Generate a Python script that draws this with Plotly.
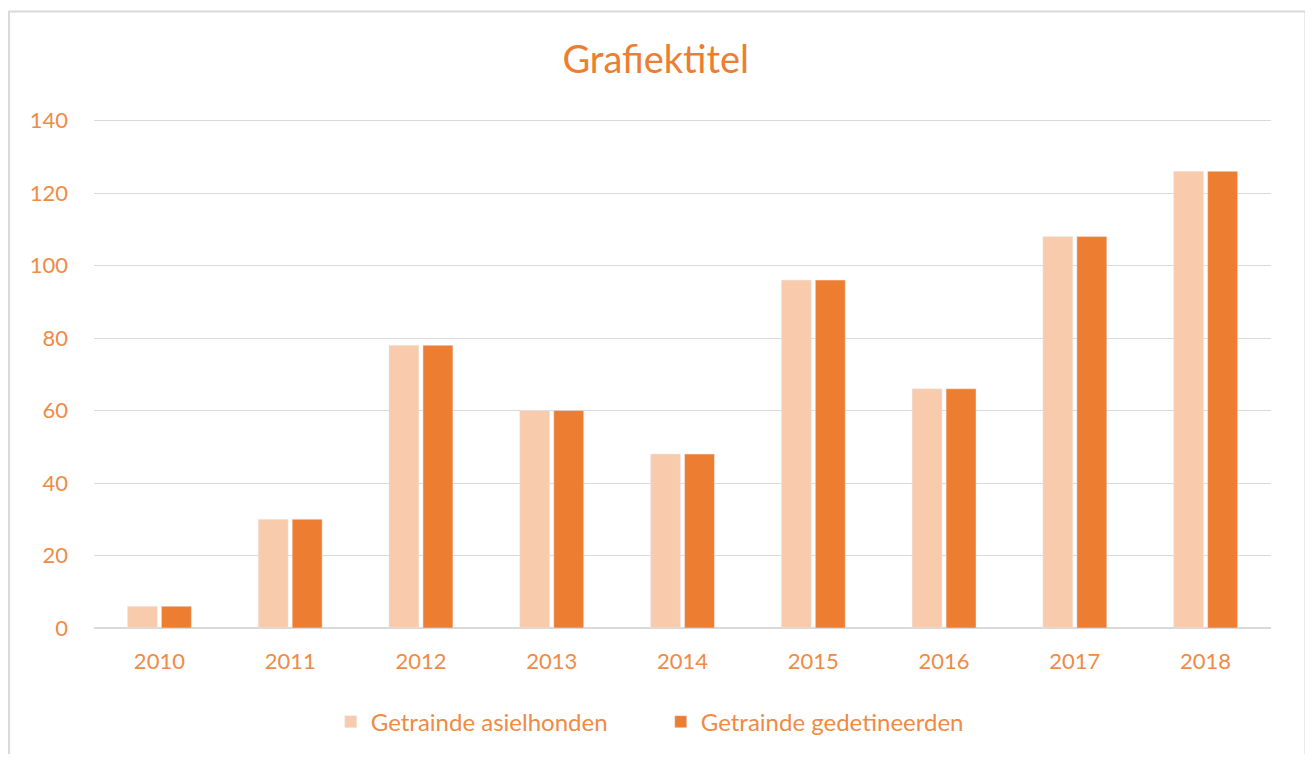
import plotly.graph_objects as go

years = ["2010", "2011", "2012", "2013", "2014", "2015", "2016", "2017", "2018"]
asielhonden = [6, 30, 78, 60, 48, 96, 66, 108, 126]
gedetineerden = [6, 30, 78, 60, 48, 96, 66, 108, 126]
series_names = ["Getrainde asielhonden", "Getrainde gedetineerden"]

LIGHT = "#F8CBAD"
DARK = "#ED7D31"
TEXT = "#F08A45"
FONT = "Lato"

fig = go.Figure()
fig.add_trace(go.Bar(x=years, y=asielhonden, name=series_names[0], marker_color=LIGHT))
fig.add_trace(go.Bar(x=years, y=gedetineerden, name=series_names[1], marker_color=DARK))

# page is offset by the default 8px body margin; work in figure coordinates
OFF = 8
W, H = 1300, 746
L = 94 - OFF
R = W - (1271.5 - OFF)
zero_y = 628 - OFF
unit = (628 - 121) / 140.0
YMAX = 141
T = zero_y - unit * YMAX
B = H - zero_y
pw, ph = W - L - R, H - T - B

def px(x):
    return (x - OFF - L) / pw

def py(y):
    return (H - B - (y - OFF)) / ph

fig.update_layout(
    width=W, height=H,
    margin=dict(l=L, r=R, t=T, b=B, autoexpand=False),
    paper_bgcolor="white", plot_bgcolor="white",
    barmode="group", bargap=0.48, bargroupgap=0.12,
    font=dict(family=FONT, color=TEXT, size=20),
    title=dict(text="Grafiektitel", x=px(656), xanchor="center", xref="paper",
               y=1 - (60 - OFF) / H, yanchor="middle",
               font=dict(size=38, color=DARK, family=FONT)),
    xaxis=dict(showgrid=False, showline=True, linecolor="#D9D9D9", linewidth=1,
               ticks="", tickfont=dict(size=22, color=TEXT), ticklabelstandoff=14),
    yaxis=dict(range=[0, YMAX], tickvals=[0, 20, 40, 60, 80, 100, 120, 140],
               showgrid=True, gridcolor="#D9D9D9", gridwidth=1,
               zeroline=True, zerolinecolor="#D9D9D9", showline=False,
               tickfont=dict(size=22, color=TEXT), ticklabelstandoff=25),
    legend=dict(orientation="h", x=px(661), xanchor="center", y=py(722), yanchor="middle",
                font=dict(size=24, color=TEXT), itemwidth=30, traceorder="normal",
                entrywidth=285, entrywidthmode="pixels"),
    showlegend=True,
    shapes=[dict(type="rect", xref="paper", yref="paper",
                 x0=px(9), x1=px(1306), y0=py(800), y1=py(12),
                 line=dict(color="#D9D9D9", width=2), fillcolor="rgba(0,0,0,0)", layer="below")],
)

fig.write_html("out.html")
